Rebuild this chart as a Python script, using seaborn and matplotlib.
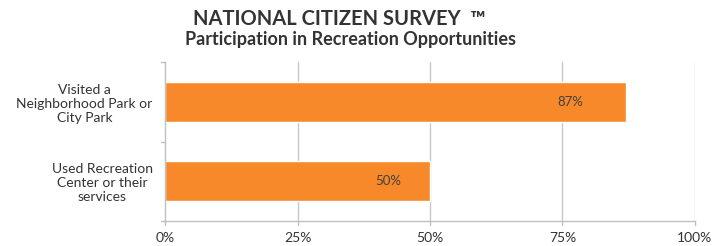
import matplotlib
matplotlib.use("Agg")
import matplotlib.pyplot as plt
import seaborn as sns
import pandas as pd

categories = ["Visited a\nNeighborhood Park or\nCity Park", "Used Recreation\nCenter or their\nservices"]
values = [87, 50]
tick_vals = [0, 25, 50, 75, 100]
tick_labels = ["0%", "25%", "50%", "75%", "100%"]

df = pd.DataFrame({"cat": categories, "val": values})

sns.set_theme(style="white")
plt.rcParams["font.family"] = ["Lato", "DejaVu Sans"]

fig = plt.figure(figsize=(7.15, 2.46), dpi=100)
ax = fig.add_axes([0.2308, 0.1016, 0.7412, 0.646])

sns.barplot(data=df, x="val", y="cat", color="#F7892B", saturation=1, width=0.5, ax=ax, orient="h")

ax.set_xlim(0, 100)
ax.set_ylim(1.5, -0.5)
ax.set_xticks(tick_vals)
ax.set_xticklabels(tick_labels, fontsize=10, color="#333333")
ax.set_xlabel("")
ax.set_ylabel("")
ax.set_yticks([0, 1])
ax.set_yticklabels(categories, fontsize=10, color="#333333", ha="right",
                   multialignment="center", linespacing=1.2)
ax.tick_params(axis="y", length=0, pad=9)
ax.tick_params(axis="x", length=0, pad=8)

for x in tick_vals[1:]:
    ax.axvline(x, color="#C8C8C8", lw=1, zorder=0)

for s in ["top", "right"]:
    ax.spines[s].set_visible(False)
for s in ["left", "bottom"]:
    ax.spines[s].set_color("#C0C0C0")
    ax.spines[s].set_linewidth(1)

# tick marks
for y in [-0.5, 0.5, 1.5]:
    ax.plot([-0.75, 0], [y, y], color="#C0C0C0", lw=1, clip_on=False)
for x in tick_vals:
    ax.plot([x, x], [1.5, 1.55], color="#C0C0C0", lw=1, clip_on=False)

label_offsets = [10.5, 7.8]
for i, v in enumerate(values):
    ax.text(v - label_offsets[i], i, f"{v}%", ha="center", va="center", fontsize=9.5, color="#404040")

fig.text(339 / 715, 1 - 19 / 246, "NATIONAL CITIZEN SURVEY  \u2122", ha="center", va="center",
         fontsize=14.5, fontweight="bold", color="#333333")
fig.text(0.49, 1 - 39 / 246, "Participation in Recreation Opportunities", ha="center", va="center",
         fontsize=13, fontweight="bold", color="#333333")

fig.savefig("out.png", dpi=100)
